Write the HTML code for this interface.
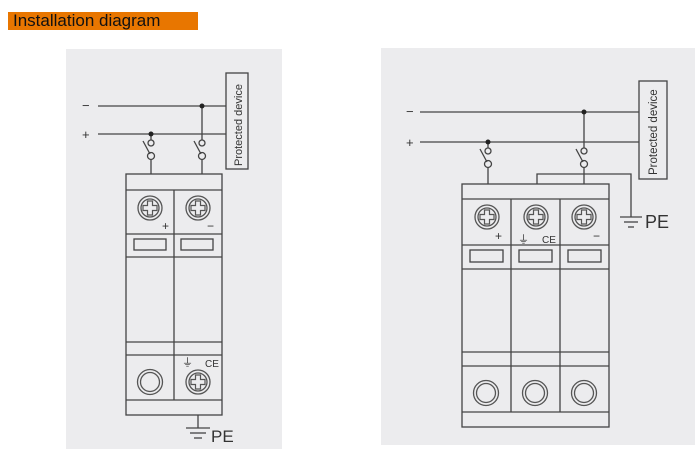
<!DOCTYPE html>
<html><head><style>
html,body{margin:0;padding:0;background:#fff;width:699px;height:455px;overflow:hidden}
.t{position:absolute;left:8px;top:12px;width:190px;height:18px;background:#e87600;font:17px "Liberation Sans",sans-serif;color:#111;line-height:18px;padding-left:5px;box-sizing:border-box}
svg{position:absolute;left:0;top:0}
</style></head><body>
<div class="t">Installation diagram</div>
<svg width="699" height="455" viewBox="0 0 699 455" font-family="Liberation Sans, sans-serif">
<defs>
<g id="scr"><circle r="12" fill="none" stroke="#555" stroke-width="1.3"/><circle r="9" fill="none" stroke="#555" stroke-width="1.3"/><path d="M-2.5,-7h5v4.5h4.5v5h-4.5v4.5h-5v-4.5h-4.5v-5h4.5z" fill="none" stroke="#555" stroke-width="1.2"/></g>
<g id="hole"><circle r="12.5" fill="none" stroke="#555" stroke-width="1.3"/><circle r="9.5" fill="none" stroke="#555" stroke-width="1.3"/></g>
<g id="sw" fill="none" stroke="#444" stroke-width="1.3"><circle cx="0" cy="9" r="3"/><circle cx="0" cy="22" r="3.5"/><line x1="-8" y1="7" x2="-1" y2="20"/></g>
</defs>
<rect x="66" y="49" width="216" height="400" fill="#ececee"/>
<rect x="381" y="48" width="314" height="397" fill="#ececee"/>
<g stroke="#444" stroke-width="1.3" fill="none">
<!-- left -->
<line x1="98" y1="106" x2="226" y2="106"/><line x1="98" y1="134" x2="226" y2="134"/>
<rect x="226" y="73" width="22" height="96"/>
<line x1="151" y1="134" x2="151" y2="140"/><line x1="151" y1="159" x2="151" y2="174"/>
<line x1="202" y1="106" x2="202" y2="140"/><line x1="202" y1="159" x2="202" y2="174"/>
<rect x="126" y="174" width="96" height="241"/>
<line x1="126" y1="190" x2="222" y2="190"/><line x1="126" y1="234" x2="222" y2="234"/>
<line x1="126" y1="257" x2="222" y2="257"/><line x1="126" y1="342" x2="222" y2="342"/>
<line x1="126" y1="355" x2="222" y2="355"/><line x1="126" y1="400" x2="222" y2="400"/>
<line x1="174" y1="190" x2="174" y2="400"/>
<rect x="134" y="239" width="32" height="11"/><rect x="181" y="239" width="32" height="11"/>
<line x1="198" y1="415" x2="198" y2="428"/><line x1="186" y1="428" x2="210" y2="428"/><line x1="190" y1="433" x2="206" y2="433"/><line x1="194" y1="438" x2="202" y2="438"/>
<!-- right -->
<line x1="420" y1="112" x2="639" y2="112"/><line x1="420" y1="142" x2="639" y2="142"/>
<rect x="639" y="81" width="28" height="98"/>
<line x1="488" y1="142" x2="488" y2="148"/><line x1="488" y1="167" x2="488" y2="184"/>
<line x1="584" y1="112" x2="584" y2="148"/><line x1="584" y1="167" x2="584" y2="184"/>
<polyline points="537,184 537,174 631,174 631,217"/>
<line x1="620" y1="217" x2="642" y2="217"/><line x1="624" y1="222" x2="638" y2="222"/><line x1="628" y1="227" x2="634" y2="227"/>
<rect x="462" y="184" width="147" height="243"/>
<line x1="462" y1="199" x2="609" y2="199"/><line x1="462" y1="245" x2="609" y2="245"/>
<line x1="462" y1="269" x2="609" y2="269"/><line x1="462" y1="352" x2="609" y2="352"/>
<line x1="462" y1="366" x2="609" y2="366"/><line x1="462" y1="412" x2="609" y2="412"/>
<line x1="511" y1="199" x2="511" y2="412"/><line x1="560" y1="199" x2="560" y2="412"/>
<rect x="470" y="250" width="33" height="12"/><rect x="519" y="250" width="33" height="12"/><rect x="568" y="250" width="33" height="12"/>
</g>
<use href="#sw" x="151" y="134"/><use href="#sw" x="202" y="134"/>
<use href="#sw" x="488" y="142"/><use href="#sw" x="584" y="142"/>
<circle cx="151" cy="134" r="2.5" fill="#222"/><circle cx="202" cy="106" r="2.5" fill="#222"/>
<circle cx="488" cy="142" r="2.5" fill="#222"/><circle cx="584" cy="112" r="2.5" fill="#222"/>
<use href="#scr" x="150" y="208"/><use href="#scr" x="198" y="208"/>
<use href="#hole" x="150" y="382"/><use href="#scr" x="198" y="382"/>
<use href="#scr" x="487" y="217"/><use href="#scr" x="536" y="217"/><use href="#scr" x="584" y="217"/>
<use href="#hole" x="486" y="393"/><use href="#hole" x="535" y="393"/><use href="#hole" x="584" y="393"/>
<g fill="#333">
<text x="82" y="110" font-size="13">−</text><text x="82" y="139" font-size="13">+</text>
<text x="406" y="116" font-size="13">−</text><text x="406" y="147" font-size="13">+</text>
<text x="162" y="230" font-size="12">+</text><text x="207" y="230" font-size="12">−</text>
<text x="495" y="240" font-size="12">+</text><text x="593" y="240" font-size="12">−</text>
<text x="205" y="367" font-size="10">CE</text><text x="542" y="243" font-size="10">CE</text>
<text x="182" y="366" font-size="11">⏚</text><text x="518" y="243" font-size="11">⏚</text>
<text x="211" y="442" font-size="17">PE</text><text x="645" y="228" font-size="18">PE</text>
<text transform="translate(242,166) rotate(-90)" font-size="11">Protected device</text>
<text transform="translate(657,175) rotate(-90)" font-size="11.5">Protected device</text>
</g>
</svg>
</body></html>
